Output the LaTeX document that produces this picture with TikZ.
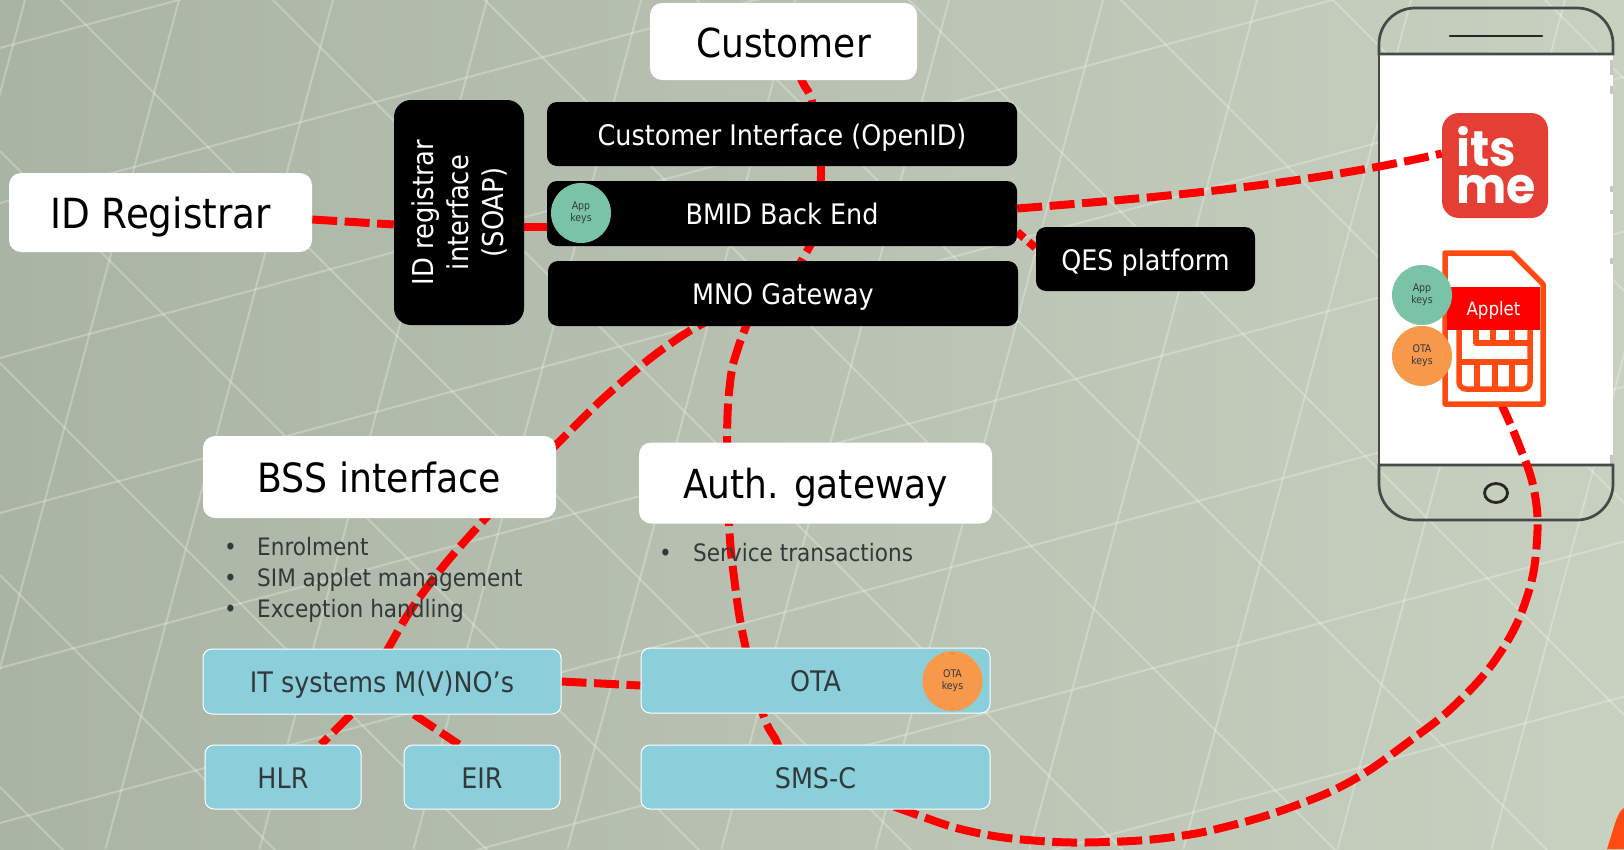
\documentclass[tikz,border=0pt]{standalone}
\usepackage{fontspec}
\setmainfont{DejaVu Sans Condensed}
\newfontfamily\logofont{Poppins}
\pgfdeclarelayer{bgl}
\pgfdeclarelayer{conn}
\pgfsetlayers{bgl,conn,main}
\definecolor{bluebox}{HTML}{8BCFDB}
\definecolor{darktext}{HTML}{33393B}
\definecolor{keygreen}{HTML}{7BC3A6}
\definecolor{keyorange}{HTML}{F8984B}
\definecolor{simorange}{HTML}{FF4A12}
\definecolor{logored}{HTML}{E53F35}
\definecolor{phonegrey}{HTML}{454A48}
\definecolor{bgleft}{RGB}{170,180,164}
\definecolor{bgmid}{RGB}{186,195,178}
\definecolor{bgright}{RGB}{200,208,192}
\newcommand{\fs}[1]{\fontsize{#1}{#1}\selectfont}
\newcommand{\fsl}[2]{\fontsize{#1}{#2}\selectfont}
\tikzset{
 x=1pt,y=-1pt,
 whitebox/.style={draw=none,fill=white,rounded corners=12pt,inner sep=0pt,text=black,text height=31pt,text depth=0pt},
 blackbox/.style={draw=none,fill=black,rounded corners=10pt,inner sep=0pt,text=white,font=\fs{28.3},text height=22pt,text depth=0pt},
 blue box/.style={draw=white,line width=1pt,fill=bluebox,rounded corners=9pt,inner sep=0pt,text=darktext,font=\fs{28.3},text height=22pt,text depth=0pt},
 bullettext/.style={anchor=base west,inner sep=0pt,text=darktext,font=\fs{24}},
 keyg/.style={circle,fill=keygreen,minimum size=60pt,inner sep=0pt,align=center,text=darktext,font=\fsl{10.5}{12}},
 keyo/.style={circle,fill=keyorange,minimum size=60pt,inner sep=0pt,align=center,text=darktext,font=\fsl{10.5}{12}},
 conn/.style={draw=red,line width=8pt,dash pattern=on 25pt off 7.5pt},
 solidconn/.style={draw=red,line width=8pt},
 gridline/.style={draw=white,opacity=.26,line width=2pt},
 simline/.style={draw=simorange,line width=5.5pt,line join=round},
}
\begin{document}
\begin{tikzpicture}
\useasboundingbox (0,0) rectangle (1624,849);
% ---- background
\begin{pgfonlayer}{bgl}
\fill[left color=bgleft,middle color=bgmid,right color=bgright] (0,0) rectangle (1624,849);
\clip (0,0) rectangle (1624,849);
\foreach \k in {0,...,7}{\draw[gridline] (0,48+155*\k) -- (1624,48+155*\k-436.4);}
\foreach \k in {0,...,11}{\draw[gridline] (25+154*\k,0) -- (25+154*\k-227.5,849);}
\foreach \c in {787,575,363,151,-61,-273,-485,-697,-909,-1121,-1333,-1545}{\draw[gridline] (0,\c) -- (1624,1624+\c);}
% ---- phone
\fill[white] (1380,54) rectangle (1613,465);
\fill[gray!45] (1610,60) rectangle (1613,75);
\fill[gray!45] (1610,86) rectangle (1613,94);
\fill[gray!45] (1610,186) rectangle (1613,192);
\fill[gray!45] (1610,210) rectangle (1613,214);
\fill[gray!45] (1610,258) rectangle (1613,264);
\fill[gray!45] (1610,455) rectangle (1613,465);
\draw[phonegrey,line width=2.7pt] (1379,54) -- (1379,465);
\draw[phonegrey,line width=2.7pt] (1379,54) -- (1379,44) arc[start angle=180,end angle=90,radius=36pt] -- (1577,8) arc[start angle=90,end angle=0,radius=36pt] -- (1613,54) -- cycle;
\draw[phonegrey,line width=2.7pt] (1379,465) -- (1379,484) arc[start angle=180,end angle=270,radius=36pt] -- (1577,520) arc[start angle=270,end angle=360,radius=36pt] -- (1613,465) -- cycle;
\draw[black!85,line width=2.6pt,line cap=round] (1450,36) -- (1542,36);
\draw[black!85,line width=2.8pt] (1496,493) ellipse [x radius=11.5pt,y radius=9.5pt];
\end{pgfonlayer}
% ---- boxes
\node[whitebox,minimum width=267pt,minimum height=77pt,font=\fs{40}] (customer) at (783.5,41.5) {Customer};
\node[blackbox,minimum width=470pt,minimum height=64pt] (custif) at (782,134) {Customer Interface (OpenID)};
\node[blackbox,minimum width=470pt,minimum height=65pt] (bmid) at (782,213.5) {BMID Back End};
\node[blackbox,minimum width=470pt,minimum height=65pt] (mno) at (783,293.5) {MNO Gateway};
\node[blackbox,rounded corners=17pt,rotate=90,minimum width=225pt,minimum height=130pt,align=center,font=\fsl{28.7}{35},text height=,text depth=] (idif) at (459,212.5) {ID registrar\\interface\\(SOAP)};
\node[whitebox,minimum width=303pt,minimum height=79pt,font=\fs{41.5}] (idreg) at (160.5,212.5) {ID Registrar};
\node[blackbox,minimum width=219pt,minimum height=64pt] (qes) at (1145.5,259) {QES platform};
\node[whitebox,minimum width=353pt,minimum height=82pt,font=\fs{40.3}] (bss) at (379.5,477) {BSS interface};
\node[whitebox,minimum width=353pt,minimum height=81pt,font=\fs{40}] (auth) at (815.5,483) {Auth. gateway};
\node[blue box,minimum width=358pt,minimum height=65pt] (itsys) at (382,681.5) {IT systems M(V)NO’s};
\node[blue box,minimum width=349pt,minimum height=65pt] (ota) at (815.5,680.5) {OTA};
\node[blue box,minimum width=156pt,minimum height=64pt] (hlr) at (283,777) {HLR};
\node[blue box,minimum width=156pt,minimum height=64pt] (eir) at (482,777) {EIR};
\node[blue box,minimum width=349pt,minimum height=64pt] (smsc) at (815.5,777) {SMS-C};
\node[keyg] (bmidkeys) at (581,213) {App\\keys};
\node[keyo] (otakeys) at (952.5,681) {OTA\\keys};
% ---- bullet lists
\node[bullettext] (b1) at (224,555) {•};
\node[bullettext] (t1) at (257,555) {Enrolment};
\node[bullettext] (b2) at (224,586) {•};
\node[bullettext] (t2) at (257,586) {SIM applet management};
\node[bullettext] (b3) at (224,617) {•};
\node[bullettext] (t3) at (257,617) {Exception handling};
\node[bullettext] (b4) at (659,561) {•};
\node[bullettext] (t4) at (693,561) {Service transactions};
% ---- itsme logo
\node[fill=logored,rounded corners=17pt,minimum width=106pt,minimum height=105pt,inner sep=0pt] (itsme) at (1495,165.5) {};
\node[text=white,inner sep=0pt,align=left,font=\logofont\bfseries\fsl{50}{37},xscale=.95] (logotext) at (1496,165) {its\\me};
% ---- sim icon
\node[minimum width=104pt,minimum height=157pt,inner sep=0pt] (sim) at (1494,328.5) {};
\fill[white] (1445,253) -- (1512,253) -- (1543,284) -- (1543,404) -- (1445,404) -- cycle;
\draw[simline] (1445,253) -- (1512,253) -- (1543,284) -- (1543,404) -- (1445,404) -- cycle;
\draw[simline,rounded corners=7pt] (1459,320) -- (1459,389) -- (1530,389) -- (1530,320);
\draw[simline] (1476,320) -- (1476,343) -- (1530,343);
\draw[simline] (1459,362) -- (1530,362);
\draw[simline] (1477,362) -- (1477,389);
\draw[simline] (1495,362) -- (1495,389);
\draw[simline] (1512,362) -- (1512,389);
\draw[simline] (1493,325) -- (1493,343);
\draw[simline] (1512,325) -- (1512,343);
\node[fill=red,text=white,minimum width=93pt,minimum height=43pt,inner sep=0pt,font=\fs{18.5},text height=14pt,text depth=0pt] (applet) at (1493.5,308.5) {Applet};
\node[keyg] (simapp) at (1422,295) {App\\keys};
\node[keyo] (simota) at (1422,356) {OTA\\keys};
% ---- corner fragment at the bottom right
\fill[simorange] (1624,808) .. controls (1617,812) and (1615,825) .. (1607,849) -- (1624,849) -- cycle;
% ---- connectors
\begin{pgfonlayer}{conn}
\draw[conn] ([yshift=-7pt]idreg.east) -- ([yshift=-12pt]idif.north);
\draw[solidconn] ([yshift=-14pt]idif.south) -- ([yshift=-13pt]bmid.west);
\draw[conn] plot[smooth,tension=.5] coordinates {(customer.center) (803,83) (812,102) (821,170) (815,232) (803,258) (mno.center)};
\draw[conn] ([yshift=5pt]bmid.east) .. controls (1150,198) and (1300,186) .. ([yshift=12pt]itsme.west);
\draw[conn,dash pattern=on 9pt off 6pt] ([yshift=-18.5pt]bmid.east) -- ([yshift=11pt]qes.west);
\draw[conn] plot[smooth,tension=.8] coordinates {([xshift=-63pt,yshift=-22pt]mno.center) (680,337) (623,381) (564,437) (484,520) (425,590) (389,647) ([yshift=18pt]itsys.center)};
\draw[conn] plot[smooth,tension=.7] coordinates {([xshift=-30pt,yshift=-16.5pt]mno.center) (738,348) (730,383) (727,442) (729,523) (734,577) (744,640) (763,714) (778,745) ([xshift=-30pt]smsc.center)};
\draw[conn] (itsys.east) -- ([yshift=-5pt]ota.west);
\draw[conn] ([xshift=-31pt]itsys.south) -- ([xshift=38pt]hlr.north);
\draw[conn] ([xshift=32pt]itsys.south) -- ([xshift=-23pt]eir.north);
\draw[conn] plot[smooth,tension=.7] coordinates {([xshift=6pt,yshift=6pt]sim.south) (1519,445) (1534,490) (1537,540) (1527,597) (1500,653) (1457,703) (1407,743) (1353,780) (1297,805) (1233,825) (1173,837) (1107,842) (1040,841) (973,832) (912,813) (smsc.center)};
\end{pgfonlayer}
\end{tikzpicture}
\end{document}
